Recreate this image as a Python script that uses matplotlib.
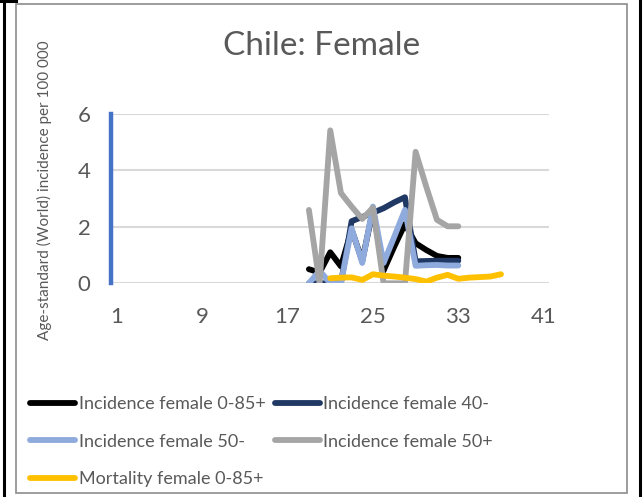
import numpy as np
import matplotlib
matplotlib.use("Agg")
import matplotlib.pyplot as plt
from matplotlib.lines import Line2D
from matplotlib.patches import Rectangle

nan = np.nan
categories = list(range(1, 42))

def series(start, vals):
    arr = [nan] * 41
    for i, v in enumerate(vals):
        arr[start - 1 + i] = v
    return arr

inc_all = series(19, [0.5, 0.38, 1.1, 0.6, 1.9, 0.8, 2.6, 0.45, 1.3, 2.1, 1.42, 1.18, 0.97, 0.9, 0.9])
inc_40m = series(19, [0.0, 0.0, 0.0, 0.0, 2.2, 2.35, 2.5, 2.66, 2.87, 3.05, 0.78, 0.79, 0.8, 0.8, 0.8])
inc_50m = series(19, [0.0, 0.45, 0.0, 0.0, 1.95, 0.72, 2.72, 0.72, 1.65, 2.6, 0.62, 0.64, 0.65, 0.63, 0.63])
inc_50p = series(19, [2.6, 0.0, 5.42, 3.2, 2.72, 2.28, 2.68, 0.0, 0.0, 0.0, 4.66, 3.42, 2.25, 2.02, 2.02])
mort_all = series(21, [0.18, 0.2, 0.21, 0.12, 0.32, 0.27, 0.24, 0.2, 0.15, 0.06, 0.2, 0.3, 0.16, 0.2, 0.22, 0.24, 0.32])

labels = ["Incidence female 0-85+", "Incidence female 40-", "Incidence female 50-",
          "Incidence female 50+", "Mortality female 0-85+"]
colors = ["#000000", "#203864", "#8FAADC", "#A5A5A5", "#FFC000"]
data = [inc_all, inc_40m, inc_50m, inc_50p, mort_all]

xticks = [1, 9, 17, 25, 33, 41]
yticks = [0, 2, 4, 6]

FONT = "Lato"
TXT = "#595959"

W, H = 643, 497
fig = plt.figure(figsize=(W / 100, H / 100), dpi=100)

# outer decorations
fig.add_artist(Rectangle((16 / W, 4 / H), (627 - 16) / W, (493 - 4) / H, transform=fig.transFigure,
                         fill=False, edgecolor="#8C8C8C", linewidth=1.2))
fig.add_artist(Line2D([3.5 / W, 3.5 / W], [0, 1], transform=fig.transFigure, color="black", linewidth=2.2))
fig.add_artist(Line2D([640 / W, 640 / W], [0, 1], transform=fig.transFigure, color="black", linewidth=2.2))
fig.add_artist(Line2D([0, 16 / W], [1 - 1 / H, 1 - 1 / H], transform=fig.transFigure, color="black", linewidth=2.2))

left, right, top, bottom = 111.5, 549, 114, 283.3
ax = fig.add_axes([left / W, 1 - bottom / H, (right - left) / W, (bottom - top) / H])

handles = []
for vals, c, lab in zip(data, colors, labels):
    h, = ax.plot(categories, vals, color=c, linewidth=4.2, label=lab, solid_capstyle="round",
                 solid_joinstyle="round", zorder=3)
    handles.append(h)

ax.set_xlim(0.5, 41.5)
ax.set_ylim(0, 6)
ax.set_xticks(xticks)
ax.set_yticks(yticks)
ax.set_xticklabels([str(t) for t in xticks], fontsize=16, color=TXT, family=FONT)
ax.set_yticklabels([str(t) for t in yticks], fontsize=16, color=TXT, family=FONT)
ax.tick_params(axis="both", length=0)
ax.tick_params(axis="x", pad=17)
ax.tick_params(axis="y", pad=15)
ax.grid(axis="y", color="#D9D9D9", linewidth=1.5, zorder=0)
ax.set_axisbelow(True)
for s in ["top", "right", "bottom"]:
    ax.spines[s].set_visible(False)
ax.spines["left"].set_color("#4472C4")
ax.spines["left"].set_linewidth(3.2)

fig.text(322 / W, 1 - 46 / H, "Chile: Female", fontsize=24, color=TXT, family=FONT,
         ha="center", va="center")
fig.text(44 / W, 1 - 190 / H, "Age-standard (World) incidence per 100 000", fontsize=11,
         color=TXT, family=FONT, rotation=90, ha="center", va="center")

order = [0, 2, 4, 1, 3]
leg = fig.legend([handles[i] for i in order], [labels[i] for i in order], ncol=2,
                 loc="upper left", bbox_to_anchor=(30 / W, 1 - 396 / H), frameon=False,
                 prop={"family": FONT, "size": 13}, handlelength=2.5, handletextpad=0.2,
                 columnspacing=0.5, labelspacing=1.2, borderaxespad=0, borderpad=0)
for t in leg.get_texts():
    t.set_color(TXT)

fig.savefig("out.png", dpi=100)
